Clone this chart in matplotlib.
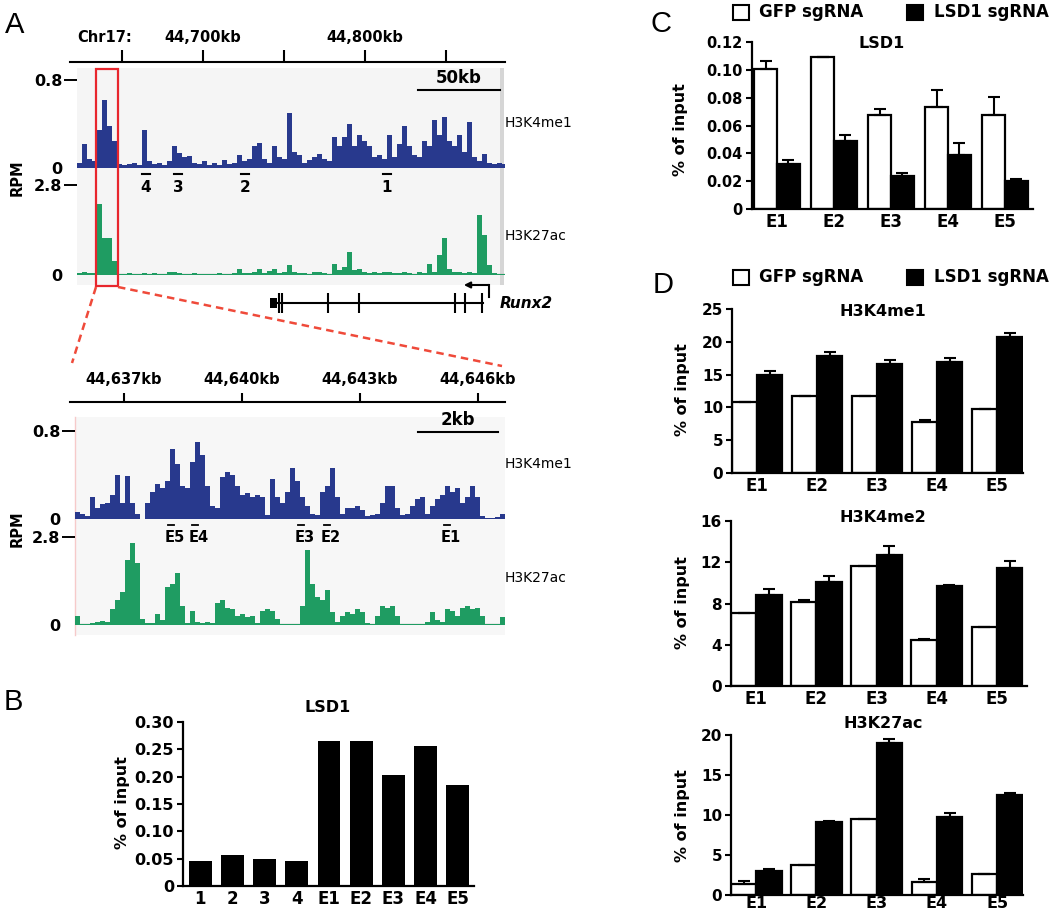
import numpy as np
import matplotlib
matplotlib.use('Agg')
import matplotlib.pyplot as plt
from matplotlib.patches import Rectangle

plt.rcParams['font.family'] = ['DejaVu Sans']
plt.rcParams['font.weight'] = 'bold'

# ---- panel A: browser tracks (RPM, one value per bin) ----
top_k4me1 = [0.05, 0.22, 0.08, 0.06, 0.35, 0.62, 0.38, 0.25, 0.04, 0.03,
             0.04, 0.05, 0.03, 0.35, 0.06, 0.04, 0.05, 0.03, 0.06, 0.20,
             0.14, 0.10, 0.11, 0.05, 0.04, 0.06, 0.03, 0.05, 0.03, 0.07,
             0.04, 0.05, 0.12, 0.06, 0.08, 0.20, 0.23, 0.08, 0.05, 0.20,
             0.10, 0.08, 0.50, 0.15, 0.12, 0.05, 0.07, 0.10, 0.13, 0.08,
             0.06, 0.28, 0.20, 0.28, 0.40, 0.20, 0.30, 0.25, 0.20, 0.10,
             0.12, 0.08, 0.30, 0.10, 0.22, 0.38, 0.20, 0.12, 0.10, 0.25,
             0.20, 0.44, 0.30, 0.46, 0.25, 0.20, 0.30, 0.15, 0.42, 0.10,
             0.06, 0.13, 0.05, 0.04, 0.05, 0.04]
top_k27ac = [0.05, 0.08, 0.05, 0.05, 2.20, 1.14, 1.14, 0.45, 0.04, 0.03,
             0.05, 0.03, 0.04, 0.05, 0.03, 0.05, 0.03, 0.04, 0.08, 0.10,
             0.05, 0.04, 0.03, 0.05, 0.03, 0.04, 0.03, 0.04, 0.05, 0.03,
             0.04, 0.05, 0.20, 0.05, 0.06, 0.08, 0.20, 0.06, 0.12, 0.20,
             0.06, 0.10, 0.30, 0.08, 0.05, 0.06, 0.04, 0.08, 0.10, 0.05,
             0.04, 0.35, 0.15, 0.25, 0.73, 0.15, 0.20, 0.08, 0.06, 0.10,
             0.05, 0.08, 0.10, 0.05, 0.06, 0.10, 0.05, 0.04, 0.08, 0.05,
             0.35, 0.10, 0.62, 1.14, 0.20, 0.10, 0.08, 0.05, 0.10, 0.06,
             1.87, 1.25, 0.30, 0.05, 0.04, 0.03]
zoom_k4me1 = [0.06, 0.05, 0.03, 0.20, 0.10, 0.14, 0.15, 0.22, 0.40, 0.15,
              0.39, 0.15, 0.05, 0.00, 0.15, 0.25, 0.32, 0.28, 0.35, 0.64,
              0.50, 0.30, 0.28, 0.52, 0.70, 0.58, 0.30, 0.12, 0.10, 0.38,
              0.43, 0.40, 0.30, 0.22, 0.24, 0.20, 0.22, 0.20, 0.04, 0.36,
              0.20, 0.15, 0.25, 0.46, 0.35, 0.20, 0.12, 0.05, 0.04, 0.25,
              0.30, 0.46, 0.20, 0.05, 0.10, 0.10, 0.12, 0.08, 0.03, 0.04,
              0.05, 0.15, 0.30, 0.30, 0.10, 0.04, 0.05, 0.12, 0.18, 0.20,
              0.05, 0.12, 0.18, 0.22, 0.30, 0.25, 0.28, 0.15, 0.20, 0.30,
              0.20, 0.03, 0.01, 0.01, 0.02, 0.05]
zoom_k27ac = [0.30, 0.02, 0.02, 0.05, 0.10, 0.12, 0.10, 0.50, 0.80, 1.06,
              2.07, 2.60, 1.96, 0.20, 0.05, 0.05, 0.35, 0.15, 1.20, 1.30,
              1.64, 0.60, 0.05, 0.45, 0.10, 0.05, 0.10, 0.05, 0.70, 0.80,
              0.55, 0.50, 0.30, 0.35, 0.25, 0.30, 0.05, 0.45, 0.50, 0.45,
              0.20, 0.02, 0.02, 0.02, 0.03, 0.60, 2.39, 1.30, 0.90, 0.80,
              1.10, 0.40, 0.10, 0.30, 0.40, 0.35, 0.50, 0.40, 0.05, 0.03,
              0.30, 0.60, 0.55, 0.60, 0.30, 0.02, 0.02, 0.03, 0.02, 0.02,
              0.10, 0.40, 0.15, 0.10, 0.50, 0.45, 0.30, 0.55, 0.60, 0.50,
              0.55, 0.30, 0.02, 0.02, 0.02, 0.25]
top_ticks = [44650, 44700, 44750, 44800, 44850]
top_labels = {44700: '44,700kb', 44800: '44,800kb'}
zoom_ticks = [44637, 44640, 44643, 44646]
zoom_labels = ['44,637kb', '44,640kb', '44,643kb', '44,646kb']
runx2_exons = [44746.9, 44748.8, 44777.2, 44796.3, 44855.6, 44861.7, 44872.2]

# ---- panel B ----
b_sites = ['1', '2', '3', '4', 'E1', 'E2', 'E3', 'E4', 'E5']
b_lsd1 = [0.046, 0.056, 0.049, 0.046, 0.265, 0.265, 0.203, 0.257, 0.184]

# ---- panels C, D (GFP sgRNA vs LSD1 sgRNA) ----
sites = ['E1', 'E2', 'E3', 'E4', 'E5']
c_gfp = [0.1006, 0.1095, 0.0672, 0.0731, 0.0672]
c_gfp_err = [0.006, 0.0, 0.0048, 0.0125, 0.0136]
c_ko = [0.0325, 0.0492, 0.0234, 0.0387, 0.0203]
c_ko_err = [0.0026, 0.0041, 0.0026, 0.0086, 0.0015]

k4me1_gfp = [10.8, 11.7, 11.7, 7.8, 9.7]
k4me1_gfp_err = [0, 0, 0, 0.3, 0]
k4me1_ko = [15.0, 17.9, 16.6, 16.9, 20.8]
k4me1_ko_err = [0.55, 0.55, 0.6, 0.6, 0.5]

k4me2_gfp = [7.12, 8.16, 11.65, 4.43, 5.73]
k4me2_gfp_err = [0, 0.15, 0, 0.17, 0]
k4me2_ko = [8.8, 10.06, 12.72, 9.68, 11.49]
k4me2_ko_err = [0.65, 0.6, 0.84, 0.16, 0.6]

k27ac_gfp = [1.36, 3.71, 9.48, 1.65, 2.68]
k27ac_gfp_err = [0.37, 0, 0, 0.29, 0]
k27ac_ko = [2.97, 9.07, 18.97, 9.81, 12.45]
k27ac_ko_err = [0.23, 0.21, 0.53, 0.49, 0.25]

BLUE = '#28398d'
GREEN = '#1f9c62'
RED = '#e8262d'

W, H = 1050, 917
fig = plt.figure(figsize=(W / 100, H / 100), dpi=100)


def px_axes(x0, y0, x1, y1):
    return fig.add_axes([x0 / W, 1 - y1 / H, (x1 - x0) / W, (y1 - y0) / H])


def overlay(z):
    ax = px_axes(0, 0, W, H)
    ax.set_xlim(0, W)
    ax.set_ylim(H, 0)
    ax.axis('off')
    ax.set_zorder(z)
    return ax


back = overlay(-5)
back.add_patch(Rectangle((77, 68), 423, 217, color='#f5f5f5', lw=0))
back.add_patch(Rectangle((500, 68), 4, 217, color='#d6d6d6', lw=0))
back.add_patch(Rectangle((75, 417), 430, 218, color='#f7f7f7', lw=0))
back.plot([75, 75], [417, 635], color='#f6caca', lw=1)


def bare(ax):
    ax.patch.set_visible(False)
    for s in ax.spines.values():
        s.set_visible(False)


def track(x0, x1, ytop, ybase, xlim, vals, top, color, gray_base=False):
    ax = px_axes(x0, ytop, x1, ybase)
    step = (xlim[1] - xlim[0]) * 5.0 / (x1 - x0)
    pos = xlim[0] + step * np.arange(len(vals))
    ax.bar(pos, vals, width=step, align='edge', color=color, lw=0)
    if gray_base:
        ax.axhline(0, color='#b8b8b8', lw=2.5, zorder=0)
    ax.set_xlim(xlim)
    ax.set_ylim(0, top)
    bare(ax)
    ax.set_xticks([])
    ax.set_yticks([0, top], ['0', '%.1f' % top])
    ax.tick_params(axis='y', length=9.5, width=1.4, pad=1, labelsize=11.5)
    ax.yaxis.get_major_ticks()[0].tick1line.set_visible(False)
    return ax


def ruler(x0, x1, ytop, ybase, xlim, ticks, tlen):
    ax = px_axes(x0, ytop, x1, ybase)
    ax.set_xlim(xlim)
    ax.set_ylim(0, 1)
    bare(ax)
    ax.spines['bottom'].set_visible(True)
    ax.spines['bottom'].set_linewidth(1.5)
    ax.set_yticks([])
    ax.set_xticks(ticks)
    ax.set_xticklabels([])
    ax.tick_params(axis='x', direction='in', length=tlen, width=1.5)
    return ax


# top browser view
top_xlim = (44617.9, 44886.4)
kbpx = (top_xlim[1] - top_xlim[0]) / 435.0
r1 = ruler(70, 505, 30, 62, top_xlim, top_ticks, 8.6)
for kb, lab in top_labels.items():
    r1.text(kb, 0.75, lab, ha='center', va='center', fontsize=10.5)
trk_xlim = (top_xlim[0] + 7 * kbpx, top_xlim[1])
track(77, 505, 80, 168, trk_xlim, top_k4me1, 0.8, BLUE)
track(77, 505, 185, 275, trk_xlim, top_k27ac, 2.8, GREEN, gray_base=True)

g = px_axes(70, 283, 505, 323)
g.set_xlim(top_xlim)
g.set_ylim(-1, 1)
g.axis('off')
g.plot([runx2_exons[0] - 1.2, runx2_exons[-1] + 0.5], [0, 0], color='black', lw=1.5)
g.add_patch(Rectangle((runx2_exons[0] - 5.5, -0.27), 4.3, 0.54, color='black', lw=0))
g.vlines(runx2_exons, -0.5, 0.5, color='black', lw=1.5)
g.plot([44876.5, 44876.5], [0.3, 0.9], color='black', lw=1.5)
g.annotate('', xy=(44861.0, 0.9), xytext=(44876.5, 0.9),
           arrowprops=dict(arrowstyle='-|>', lw=1.5, color='black',
                           mutation_scale=9, shrinkA=0, shrinkB=0))

# zoomed view
zoom_xlim = (44635.63, 44646.69)
zkbpx = (zoom_xlim[1] - zoom_xlim[0]) / 435.0
r2 = ruler(70, 505, 370, 402, zoom_xlim, zoom_ticks, 6.5)
for kb, lab in zip(zoom_ticks, zoom_labels):
    r2.text(kb, 0.69, lab, ha='center', va='center', fontsize=10.5)
z_xlim = (zoom_xlim[0] + 5 * zkbpx, zoom_xlim[1])
track(75, 505, 431, 519, z_xlim, zoom_k4me1, 0.8, BLUE)
track(75, 505, 537, 625, z_xlim, zoom_k27ac, 2.8, GREEN, gray_base=True)


# ---- bar charts ----
def style_bar_axes(ax, top, yticks, ylabels, fs, xfs=12, xpad=3):
    ax.set_ylim(0, top)
    ax.set_yticks(yticks, ylabels)
    ax.spines['top'].set_visible(False)
    ax.spines['right'].set_visible(False)
    ax.spines['left'].set_linewidth(1.6)
    ax.spines['bottom'].set_linewidth(1.6)
    ax.tick_params(axis='y', length=4.5, width=1.5, pad=2, labelsize=fs)
    ax.tick_params(axis='x', length=0, pad=xpad, labelsize=xfs)
    ax.patch.set_visible(False)


axb = px_axes(183, 722, 474, 886)
xb = np.arange(len(b_sites))
axb.bar(xb, b_lsd1, 0.71, color='black', lw=0)
axb.set_xlim(-0.53, 8.5)
axb.set_xticks(xb, b_sites)
style_bar_axes(axb, 0.30, np.arange(0, 0.31, 0.05),
               ['0', '0.05', '0.10', '0.15', '0.20', '0.25', '0.30'], 11.5)


def grouped(rect, gfp, gfp_err, ko, ko_err, top, yticks, ylabels, xlim, w, fs,
            xfs=12, xpad=3):
    ax = px_axes(*rect)
    x = np.arange(len(sites))
    zeros = np.zeros(len(sites))
    ax.bar(x - w / 2, gfp, w, color='white', edgecolor='black', lw=1.6, zorder=2)
    ax.bar(x + w / 2, ko, w, color='black', edgecolor='black', lw=1.6, zorder=2)
    ax.errorbar(x - w / 2, gfp, yerr=[zeros, gfp_err], fmt='none', ecolor='black',
                elinewidth=1.5, capsize=4.5, capthick=1.5, zorder=3)
    ax.errorbar(x + w / 2, ko, yerr=[zeros, ko_err], fmt='none', ecolor='black',
                elinewidth=1.5, capsize=4.5, capthick=1.5, zorder=3)
    ax.set_xlim(xlim)
    ax.set_xticks(x, sites)
    style_bar_axes(ax, top, yticks, ylabels, fs, xfs, xpad)
    return ax


grouped((752, 42, 1033, 209), c_gfp, c_gfp_err, c_ko, c_ko_err, 0.12,
        np.arange(0, 0.121, 0.02), ['0', '0.02', '0.04', '0.06', '0.08', '0.10', '0.12'],
        (-0.44, 4.49), 0.40, 10.5)
grouped((732, 309, 1023, 473), k4me1_gfp, k4me1_gfp_err, k4me1_ko, k4me1_ko_err, 25,
        [0, 5, 10, 15, 20, 25], ['0', '5', '10', '15', '20', '25'],
        (-0.42, 4.43), 0.42, 11)
grouped((731, 521, 1027, 686), k4me2_gfp, k4me2_gfp_err, k4me2_ko, k4me2_ko_err, 16,
        [0, 4, 8, 12, 16], ['0', '4', '8', '12', '16'],
        (-0.42, 4.5), 0.42, 11)
grouped((731, 735, 1023, 895), k27ac_gfp, k27ac_gfp_err, k27ac_ko, k27ac_ko_err, 20,
        [0, 5, 10, 15, 20], ['0', '5', '10', '15', '20'],
        (-0.42, 4.43), 0.42, 11, xfs=11.5, xpad=1)

# ---- labels and annotations ----
fr = overlay(10)
for lab, x, y in [('A', 15, 25), ('B', 13, 702), ('C', 661, 24), ('D', 663, 285)]:
    fr.text(x, y, lab, ha='center', va='center', fontsize=21, fontweight='normal',
            family='Liberation Sans')

fr.text(105, 38, 'Chr17:', ha='center', va='center', fontsize=10.5)
fr.plot([418, 500], [90, 90], color='black', lw=1.5)
fr.text(459, 78, '50kb', ha='center', va='center', fontsize=12)
fr.plot([418, 498], [432, 432], color='black', lw=1.5)
fr.text(458, 420, '2kb', ha='center', va='center', fontsize=12)

for lab, y in [('H3K4me1', 123), ('H3K27ac', 236), ('H3K4me1', 464), ('H3K27ac', 578)]:
    fr.text(505, y, lab, ha='left', va='center', fontsize=10, fontweight='normal')
for y in (178, 529):
    fr.text(17, y, 'RPM', ha='center', va='center', rotation=90, fontsize=10.5)

for lab, x in [('4', 146), ('3', 178), ('2', 245), ('1', 387)]:
    fr.plot([x - 4, x + 4], [174, 174], color='black', lw=1.5)
    fr.text(x, 188, lab, ha='center', va='center', fontsize=11)
for lab, x in [('E5', 175), ('E4', 199), ('E3', 305), ('E2', 331), ('E1', 451)]:
    fr.plot([x - 7, x - 1], [525, 525], color='black', lw=1.3)
    fr.text(x, 537, lab, ha='center', va='center', fontsize=10.5)

fr.text(500, 303, 'Runx2', ha='left', va='center', fontsize=11, style='italic')

fr.add_patch(Rectangle((96, 69), 22, 217, fill=False, ec=RED, lw=1.6))
fr.plot([96, 72], [287, 363], color='#ef4a3a', lw=1.8, ls=(0, (3, 2)))
fr.plot([118, 502], [287, 366], color='#ef4a3a', lw=1.8, ls=(0, (3, 2)))

# bar chart titles / y labels
for lab, x, y in [('LSD1', 328, 707), ('LSD1', 882, 44), ('H3K4me1', 883, 312),
                  ('H3K4me2', 883, 518), ('H3K27ac', 883, 723)]:
    fr.text(x, y, lab, ha='center', va='center', fontsize=11.5)
for x, y in [(123, 803), (680, 130), (682, 390), (682, 603), (682, 816)]:
    fr.text(x, y, '% of input', ha='center', va='center', rotation=90, fontsize=11.5)

# legends
for y in (12, 277):
    fr.add_patch(Rectangle((733, y - 7.5), 16, 15, fc='white', ec='black', lw=1.5))
    fr.text(759, y, 'GFP sgRNA', ha='left', va='center', fontsize=12)
    fr.add_patch(Rectangle((907, y - 7.5), 16, 15, fc='black', ec='black', lw=1.5))
    fr.text(934, y, 'LSD1 sgRNA', ha='left', va='center', fontsize=12)

fig.savefig('out.png', dpi=100)
